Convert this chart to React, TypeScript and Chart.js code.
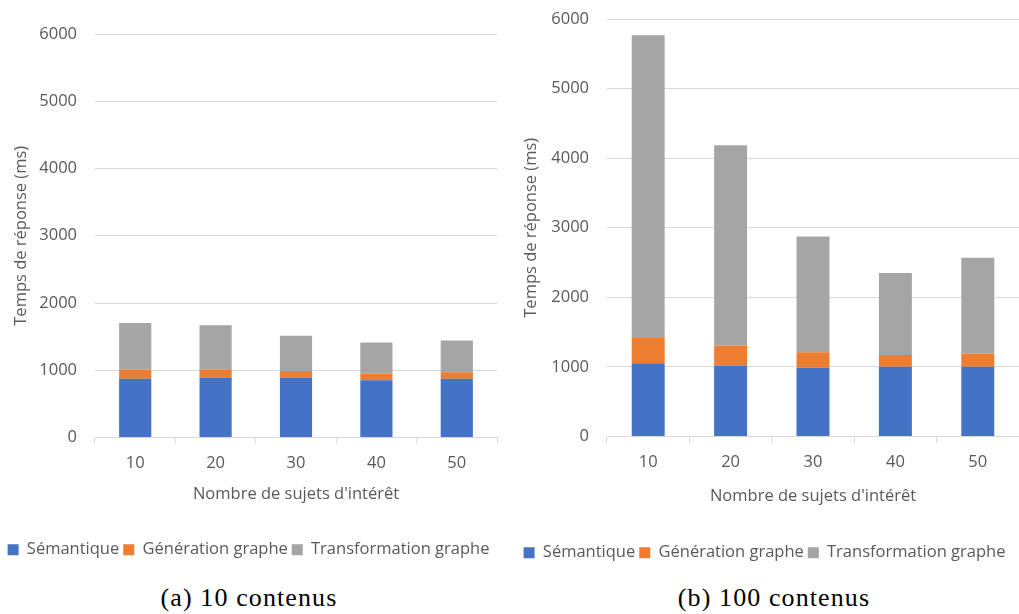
import React, { useEffect, useRef } from "react";
import { Chart, registerables } from "chart.js";

Chart.register(...registerables);

const categories = ["10", "20", "30", "40", "50"];
const seriesNames = ["Sémantique", "Génération graphe", "Transformation graphe"];
const seriesColors = ["#4472C4", "#ED7D31", "#A5A5A5"];

// (a) 10 contenus
const semantiqueA = [872, 893, 893, 853, 872];
const generationA = [134, 113, 94, 99, 100];
const transformationA = [695, 665, 525, 462, 471];

// (b) 100 contenus
const semantiqueB = [1054, 1021, 987, 1001, 1001];
const generationB = [374, 287, 225, 172, 192];
const transformationB = [4338, 2876, 1664, 1175, 1375];

const yTicks = [0, 1000, 2000, 3000, 4000, 5000, 6000];
const yTitle = "Temps de réponse (ms)";
const xTitle = "Nombre de sujets d'intérêt";
const captionA = "(a) 10 contenus";
const captionB = "(b) 100 contenus";

const FONT = "'Open Sans', sans-serif";
const TEXT = "#595959";
const GRID = "#d9d9d9";

type Cfg = {
  series: number[][];
  padTop: number;
  padRight: number;
  padBottom: number;
  yWidth: number;
  xHeight: number;
  xTitlePad: number;
};

function StackedChart({ series, padTop, padRight, padBottom, yWidth, xHeight, xTitlePad }: Cfg) {
  const ref = useRef<HTMLCanvasElement | null>(null);
  useEffect(() => {
    if (!ref.current) return;
    const chart = new Chart(ref.current, {
      type: "bar",
      data: {
        labels: categories,
        datasets: series.map((d, i) => ({
          label: seriesNames[i],
          data: d,
          backgroundColor: seriesColors[i],
          borderWidth: 0,
          barPercentage: 0.4,
          categoryPercentage: 1,
        })),
      },
      options: {
        animation: false,
        responsive: false,
        maintainAspectRatio: false,
        layout: { padding: { top: padTop, right: padRight, left: 0, bottom: padBottom } },
        plugins: {
          legend: {
            position: "bottom",
            labels: {
              boxWidth: 11,
              boxHeight: 11,
              padding: 4,
              color: TEXT,
              font: { family: FONT, size: 16.5 },
            },
          },
          tooltip: { enabled: false },
        },
        scales: {
          x: {
            stacked: true,
            grid: {
              drawOnChartArea: false,
              drawTicks: true,
              tickLength: 6,
              color: GRID,
            },
            border: { color: GRID },
            ticks: { color: TEXT, font: { family: FONT, size: 16.5 }, padding: 10 },
            title: {
              display: true,
              text: xTitle,
              color: TEXT,
              font: { family: FONT, size: 16.5 },
              padding: { top: 0, bottom: xTitlePad },
            },
            afterFit: (s: any) => {
              s.height = xHeight;
              s.paddingLeft = 0;
              s.paddingRight = 0;
            },
          },
          y: {
            stacked: true,
            min: yTicks[0],
            max: yTicks[yTicks.length - 1],
            afterBuildTicks: (s: any) => {
              s.ticks = yTicks.map((v) => ({ value: v }));
            },
            ticks: {
              color: TEXT,
              font: { family: FONT, size: 16.5 },
              padding: 18,
              callback: (v: any) => String(v),
            },
            grid: { color: GRID, drawTicks: false },
            border: { display: false },
            title: {
              display: true,
              text: yTitle,
              color: TEXT,
              font: { family: FONT, size: 16.5 },
              padding: { top: 11, bottom: 0 },
            },
            afterFit: (s: any) => {
              s.width = yWidth;
              s.paddingTop = 0;
              s.paddingBottom = 0;
            },
          },
        },
      },
    });
    return () => chart.destroy();
  }, []);
  return <canvas ref={ref} width={510} height={580} />;
}

const captionStyle: React.CSSProperties = {
  position: "absolute",
  width: 200,
  top: 582,
  textAlign: "center",
  fontFamily: "'Liberation Serif', serif",
  fontSize: 26,
  letterSpacing: 1.1,
  color: "#000",
  lineHeight: "32px",
  whiteSpace: "nowrap",
};

export default function App() {
  return (
    <div
      style={{
        position: "absolute",
        left: 0,
        top: 0,
        width: 1019,
        height: 614,
        background: "#fff",
        overflow: "hidden",
      }}
    >
      <div style={{ position: "absolute", left: 0, top: 0, width: 510, height: 580 }}>
        <StackedChart
          series={[semantiqueA, generationA, transformationA]}
          padTop={34}
          padRight={13}
          padBottom={12}
          yWidth={95}
          xHeight={100}
          xTitlePad={33}
        />
      </div>
      <div style={{ position: "absolute", left: 510, top: 0, width: 510, height: 580 }}>
        <StackedChart
          series={[semantiqueB, generationB, transformationB]}
          padTop={19}
          padRight={1}
          padBottom={9}
          yWidth={97}
          xHeight={104}
          xTitlePad={34}
        />
      </div>
      <div style={{ ...captionStyle, left: 149 }}>{captionA}</div>
      <div style={{ ...captionStyle, left: 674 }}>{captionB}</div>
    </div>
  );
}
